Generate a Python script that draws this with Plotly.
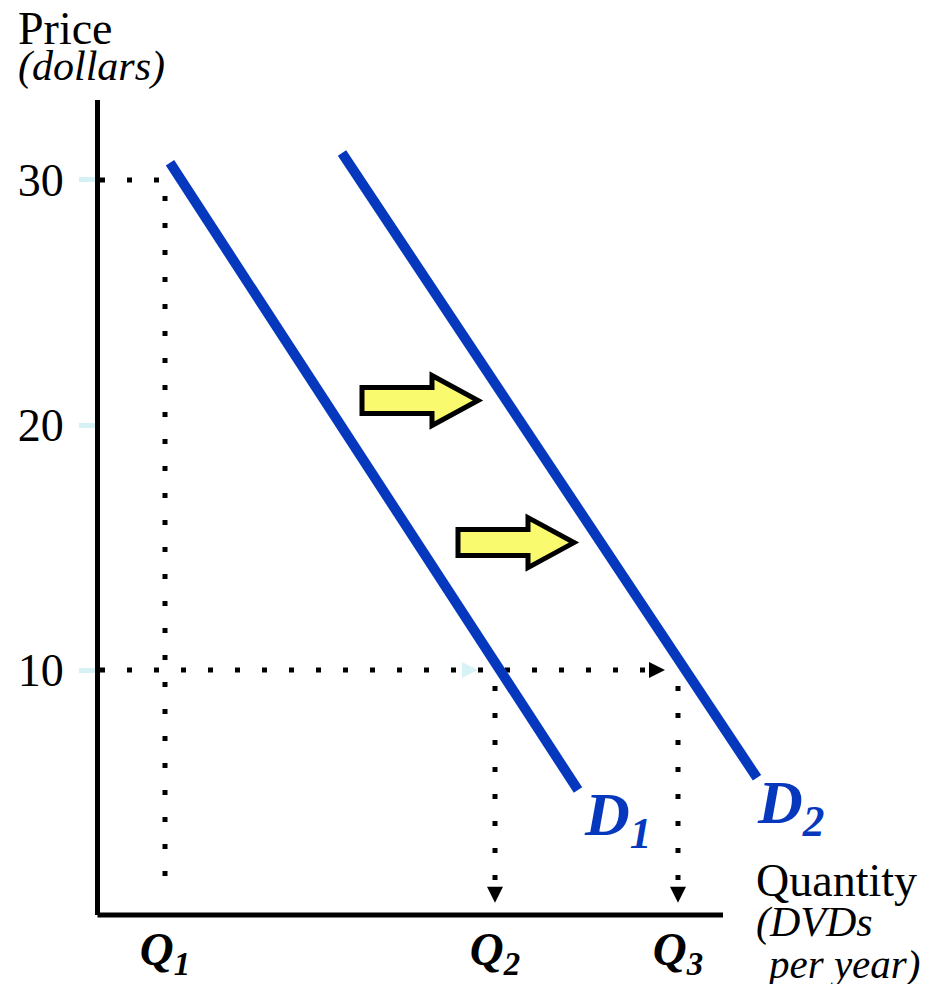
import plotly.graph_objects as go

# ---------------- data ----------------
price_ticks = [10, 20, 30]
price_tick_text = ["10", "20", "30"]

quantity_ticks = [6.5, 39.5, 57.8]          # Q1, Q2, Q3
quantity_tick_text = ["<b><i>Q<sub>1</sub></i></b>",
                      "<b><i>Q<sub>2</sub></i></b>",
                      "<b><i>Q<sub>3</sub></i></b>"]

d1_quantity = [7.0, 47.8]
d1_price = [30.7, 5.1]
d2_quantity = [24.2, 65.7]
d2_price = [31.1, 5.6]

high_price = 30
low_price = 10
x_axis_end = 62.3

shift_arrow_quantity = [26.2, 35.8]       # tail of each shift arrow
shift_arrow_price = [21.0, 15.2]

# ---------------- geometry ----------------
W, H = 937, 984
L, R, T, B = 100, 0, 100, 69
PW, PH = W - L - R, H - T - B
X_RANGE = [0, 83.7]
Y_RANGE = [0, 33.265]

def px_x(px):
    return (px - L) / PW

def px_y(py):
    return (H - B - py) / PH

FONT = "Liberation Serif"
BLUE = "#0638BE"
DOT = "5px,22px"

fig = go.Figure()

# dotted guide lines
fig.add_trace(go.Scatter(x=[0, quantity_ticks[0], quantity_ticks[0]],
                         y=[high_price, high_price, 1.0],
                         mode="lines", line=dict(color="black", width=5, dash=DOT),
                         hoverinfo="skip"))
fig.add_trace(go.Scatter(x=[0, quantity_ticks[2] - 1.3], y=[low_price, low_price],
                         mode="lines", line=dict(color="black", width=5, dash=DOT),
                         hoverinfo="skip"))
for q in quantity_ticks[1:]:
    fig.add_trace(go.Scatter(x=[q, q], y=[low_price - 0.65, 0.8],
                             mode="lines", line=dict(color="black", width=5, dash=DOT),
                             hoverinfo="skip"))

# arrow heads on guide lines
fig.add_trace(go.Scatter(x=quantity_ticks[1:], y=[0.5, 0.5], mode="markers",
                         marker=dict(symbol="arrow-down", size=16, color="black"),
                         hoverinfo="skip", cliponaxis=False))
fig.add_trace(go.Scatter(x=[quantity_ticks[2] - 1.3], y=[low_price], mode="markers",
                         marker=dict(symbol="arrow-right", size=16, color="black"),
                         hoverinfo="skip"))
fig.add_trace(go.Scatter(x=[quantity_ticks[1] - 1.7], y=[low_price], mode="markers",
                         marker=dict(symbol="arrow-right", size=16, color="#d8f3f7"),
                         hoverinfo="skip"))

# demand curves
fig.add_trace(go.Scatter(x=d1_quantity, y=d1_price, mode="lines",
                         line=dict(color=BLUE, width=10), hoverinfo="skip"))
fig.add_trace(go.Scatter(x=d2_quantity, y=d2_price, mode="lines",
                         line=dict(color=BLUE, width=10), hoverinfo="skip"))

# shift arrows (yellow block arrows)
shapes = []
for q0, p0 in zip(shift_arrow_quantity, shift_arrow_price):
    shaft_len, total_len, sh, hh = 7.0, 11.6, 0.53, 1.02
    path = (f"M {q0} {p0 - sh} L {q0 + shaft_len} {p0 - sh} L {q0 + shaft_len} {p0 - hh} "
            f"L {q0 + total_len} {p0} L {q0 + shaft_len} {p0 + hh} "
            f"L {q0 + shaft_len} {p0 + sh} L {q0} {p0 + sh} Z")
    shapes.append(dict(type="path", xref="x", yref="y", path=path,
                       fillcolor="#FAFA6E", line=dict(color="black", width=5),
                       layer="above"))

# x axis line
shapes.append(dict(type="line", xref="paper", yref="paper",
                   x0=-2.5 / PW, x1=x_axis_end / (X_RANGE[1] - X_RANGE[0]),
                   y0=0, y1=0, line=dict(color="black", width=5)))

annotations = [
    dict(text="Price", x=px_x(16), y=px_y(28), font=dict(size=46)),
    dict(text="<i>(dollars)</i>", x=px_x(16), y=px_y(66), font=dict(size=42)),
    dict(text="Quantity", x=px_x(754), y=px_y(880), font=dict(size=46)),
    dict(text="<i>(DVDs</i>", x=px_x(754), y=px_y(922), font=dict(size=42)),
    dict(text="<i>per year)</i>", x=px_x(764), y=px_y(964), font=dict(size=41)),
    dict(text="<b><i>D<sub>1</sub></i></b>", x=px_x(582), y=px_y(818),
         font=dict(size=62, color=BLUE)),
    dict(text="<b><i>D<sub>2</sub></i></b>", x=px_x(755), y=px_y(806),
         font=dict(size=62, color=BLUE)),
]
for a in annotations:
    a.update(xref="paper", yref="paper", xanchor="left", yanchor="middle",
             showarrow=False)
    a["font"].setdefault("color", "black")
    a["font"]["family"] = FONT

fig.update_layout(
    width=W, height=H,
    margin=dict(l=L, r=R, t=T, b=B, pad=0, autoexpand=False),
    paper_bgcolor="white", plot_bgcolor="white",
    showlegend=False,
    shapes=shapes,
    annotations=annotations,
    font=dict(family=FONT, color="black"),
    xaxis=dict(range=X_RANGE, showgrid=False, zeroline=False, showline=False,
               tickvals=quantity_ticks, ticktext=quantity_tick_text, ticks="",
               tickfont=dict(size=47, family=FONT, color="black"),
               ticklabelstandoff=2, fixedrange=True, automargin=False),
    yaxis=dict(range=Y_RANGE, showgrid=False, zeroline=False, showline=True,
               linecolor="black", linewidth=5,
               tickvals=price_ticks, ticktext=price_tick_text,
               ticks="outside", ticklen=16, tickwidth=5, tickcolor="#d6f1f4",
               tickfont=dict(size=46, family=FONT, color="black"),
               ticklabelstandoff=6, fixedrange=True, automargin=False),
)

fig.write_html("out.html", config={"displayModeBar": False},
               post_script="document.body.style.margin='0';")
